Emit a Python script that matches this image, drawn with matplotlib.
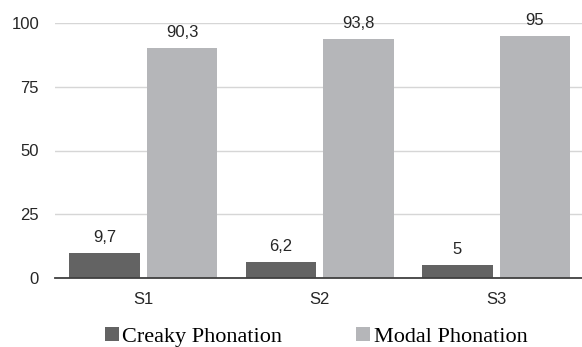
import matplotlib
matplotlib.use("Agg")
import matplotlib.pyplot as plt
import numpy as np

categories = ["S1", "S2", "S3"]
creaky = [9.7, 6.2, 5.0]
modal = [90.3, 93.8, 95.0]
creaky_labels = ["9,7", "6,2", "5"]
modal_labels = ["90,3", "93,8", "95"]
series_names = ["Creaky Phonation", "Modal Phonation"]
yticks = [0, 25, 50, 75, 100]

W, H = 582, 347
fig = plt.figure(figsize=(W / 100, H / 100), dpi=100)
ax = fig.add_axes([55 / W, 1 - 278 / H, (582 - 55) / W, (278 - 23) / H])

x = np.arange(len(categories))
off, bw = 0.22, 0.4
b1 = ax.bar(x - off, creaky, bw, color="#636363", label=series_names[0], zorder=3)
b2 = ax.bar(x + off, modal, bw, color="#b5b6b9", label=series_names[1], zorder=3)

sans = "Liberation Sans"
for bars, labs in ((b1, creaky_labels), (b2, modal_labels)):
    for r, t in zip(bars, labs):
        ax.annotate(t, (r.get_x() + r.get_width() / 2, r.get_height()),
                    xytext=(0, 8), textcoords="offset points",
                    ha="center", va="baseline", fontsize=12,
                    family=sans, color="#262626", clip_on=False)

ax.set_xlim(-0.5, 2.487)
ax.set_ylim(0, 100)
ax.set_yticks(yticks)
ax.set_xticks(x)
ax.set_xticklabels(categories)
for lab in ax.get_xticklabels() + ax.get_yticklabels():
    lab.set_fontfamily(sans)
    lab.set_fontsize(12)
    lab.set_color("#262626")
ax.tick_params(axis="both", length=0)
ax.tick_params(axis="y", pad=11.5)
ax.tick_params(axis="x", pad=10)
ax.yaxis.grid(True, color="#d6d6d6", linewidth=1.0, zorder=0)
ax.set_axisbelow(True)
for s in ("top", "right", "left"):
    ax.spines[s].set_visible(False)
ax.spines["bottom"].set_color("#404040")
ax.spines["bottom"].set_linewidth(1.3)
ax.spines["bottom"].set_zorder(4)

fig.legend(handles=[b1, b2], loc="center", bbox_to_anchor=(316 / W, 1 - 337 / H),
           ncol=2, frameon=False, prop={"family": "Liberation Serif", "size": 16},
           handlelength=0.65, handleheight=0.6, handletextpad=0.15,
           columnspacing=3.3, borderaxespad=0)

fig.savefig("out.png", dpi=100)
